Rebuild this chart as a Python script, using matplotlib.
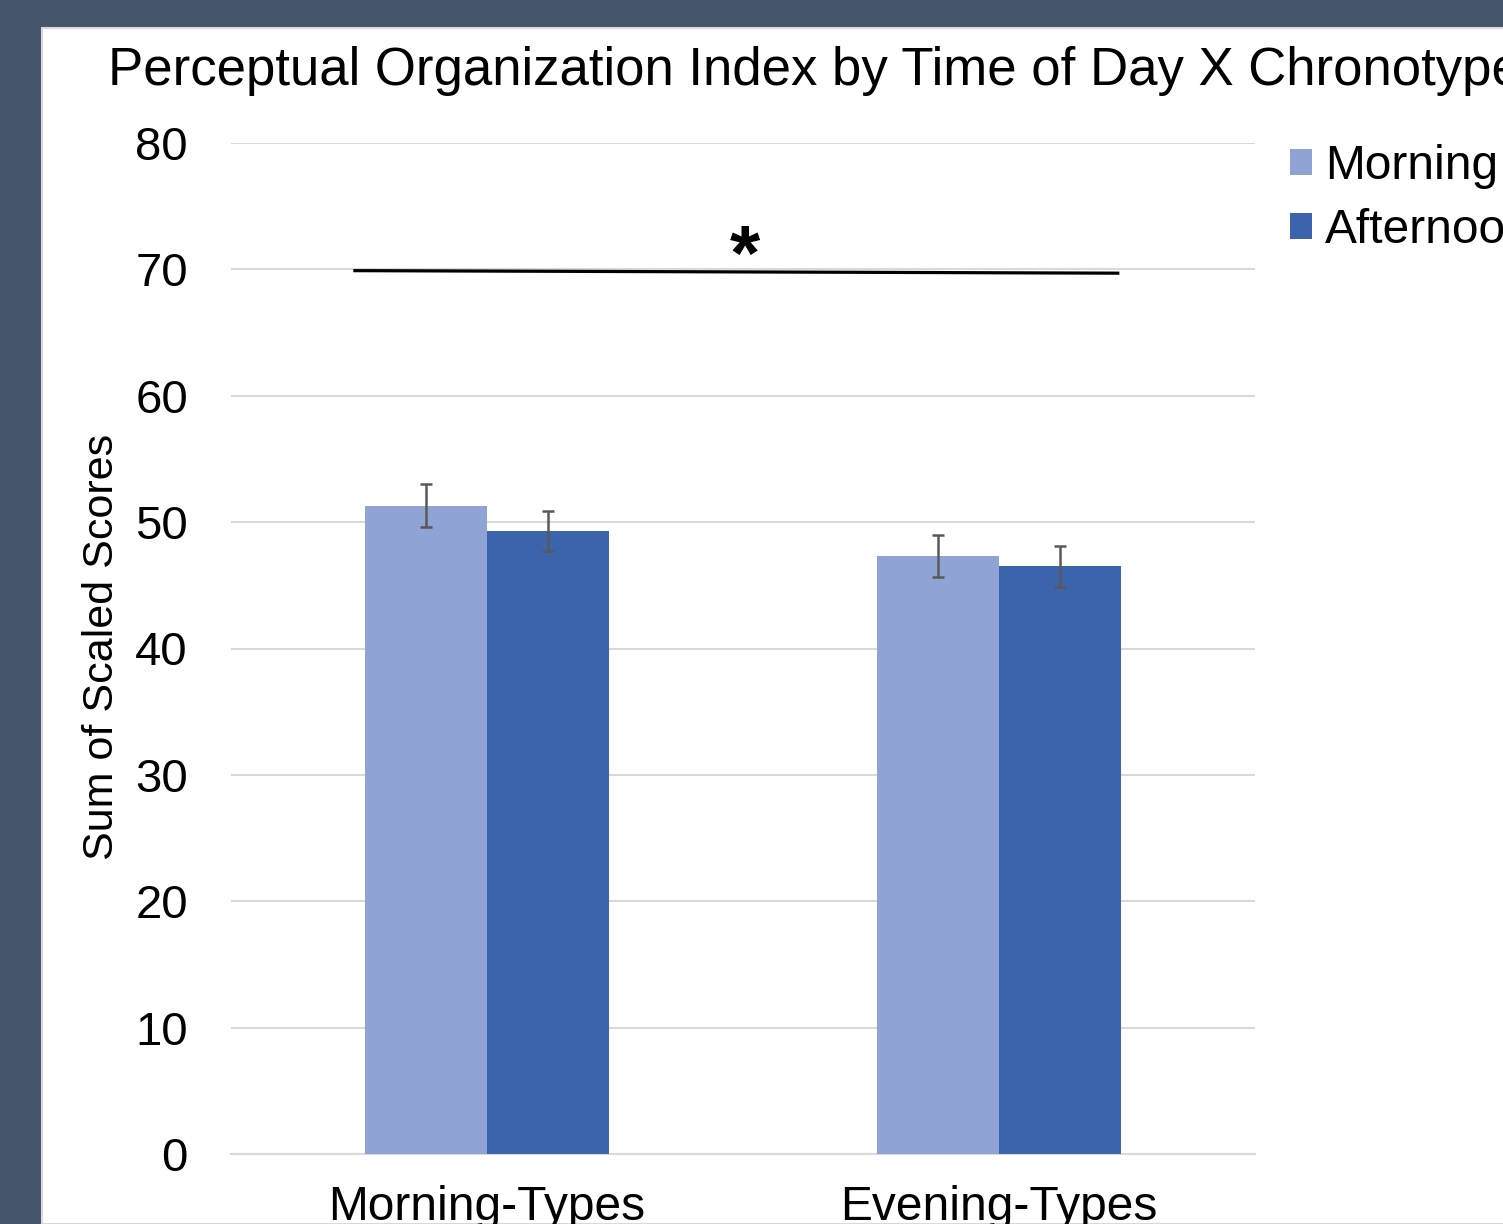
import matplotlib
matplotlib.use("Agg")
import matplotlib.pyplot as plt
from matplotlib.patches import Rectangle
import numpy as np

plt.rcParams['font.family'] = ['Liberation Sans', 'DejaVu Sans']

categories = ["Morning-Types", "Evening-Types"]
series_names = ["Morning", "Afternoon"]
morning_vals = [51.3, 47.3]
afternoon_vals = [49.3, 46.5]
morning_err = [1.7, 1.65]
afternoon_err = [1.6, 1.65]
yticks = [0, 10, 20, 30, 40, 50, 60, 70, 80]
sig_x = [-0.258, 1.232]
sig_y = [69.9, 69.7]
sig_star_pos = (0.504, 69.2)

W, H = 1503, 1224
fig = plt.figure(figsize=(W/100, H/100), dpi=100)
fig.patch.set_facecolor('#44546A')
fig.add_artist(Rectangle((42/W, 0), 1 - 42/W + 0.01, 1 - 28/H,
                         transform=fig.transFigure, facecolor='white',
                         edgecolor='#D9D9D9', linewidth=1.5, zorder=0))

ax = fig.add_axes([231/W, 1 - 1154/H, (1255-231)/W, (1154-143)/H])
ax.set_facecolor('none')
x = np.arange(len(categories))
bw = 0.239
c_m = '#8FA4D4'
c_a = '#3C64AD'
ax.bar(x - bw/2, morning_vals, bw, color=c_m, label=series_names[0], zorder=3,
       yerr=morning_err, error_kw=dict(ecolor='#595959', elinewidth=1.8, capsize=4.5, capthick=1.8))
ax.bar(x + bw/2, afternoon_vals, bw, color=c_a, label=series_names[1], zorder=3,
       yerr=afternoon_err, error_kw=dict(ecolor='#595959', elinewidth=1.8, capsize=4.5, capthick=1.8))

ax.set_xlim(-0.5, 1.5)
ax.set_ylim(0, 80)
ax.set_yticks(yticks)
ax.yaxis.grid(True, color='#D9D9D9', linewidth=1.5, zorder=0)
ax.set_axisbelow(True)
for s in ['top', 'right', 'left']:
    ax.spines[s].set_visible(False)
ax.spines['bottom'].set_color('#D9D9D9')
ax.spines['bottom'].set_linewidth(1.5)
ax.tick_params(axis='both', length=0)
ax.tick_params(axis='y', labelsize=34, pad=31)
ax.set_xticks(x)
ax.set_xticklabels(categories)
ax.tick_params(axis='x', labelsize=34.5, pad=22)

ax.plot(sig_x, sig_y, color='black', linewidth=2.3, zorder=4, clip_on=False)
ax.text(sig_star_pos[0], sig_star_pos[1], '*', ha='center', va='baseline',
        fontsize=56, fontweight='bold', zorder=4)

fig.text(108/W, 1 - 85/H, "Perceptual Organization Index by Time of Day X Chronotype",
         ha='left', va='baseline', fontsize=38)
fig.text(102/W, 1 - 647/H, "Sum of Scaled Scores", rotation=90, ha='center', va='center',
         fontsize=31)

leg = ax.legend(loc='upper left', bbox_to_anchor=(1290/W, 1 - 144/H),
                bbox_transform=fig.transFigure, frameon=False, fontsize=34.5,
                handlelength=0.46, handleheight=0.46, handletextpad=0.27,
                labelspacing=0.4, borderpad=0, borderaxespad=0)

fig.savefig('out.png', dpi=100, facecolor=fig.get_facecolor())
